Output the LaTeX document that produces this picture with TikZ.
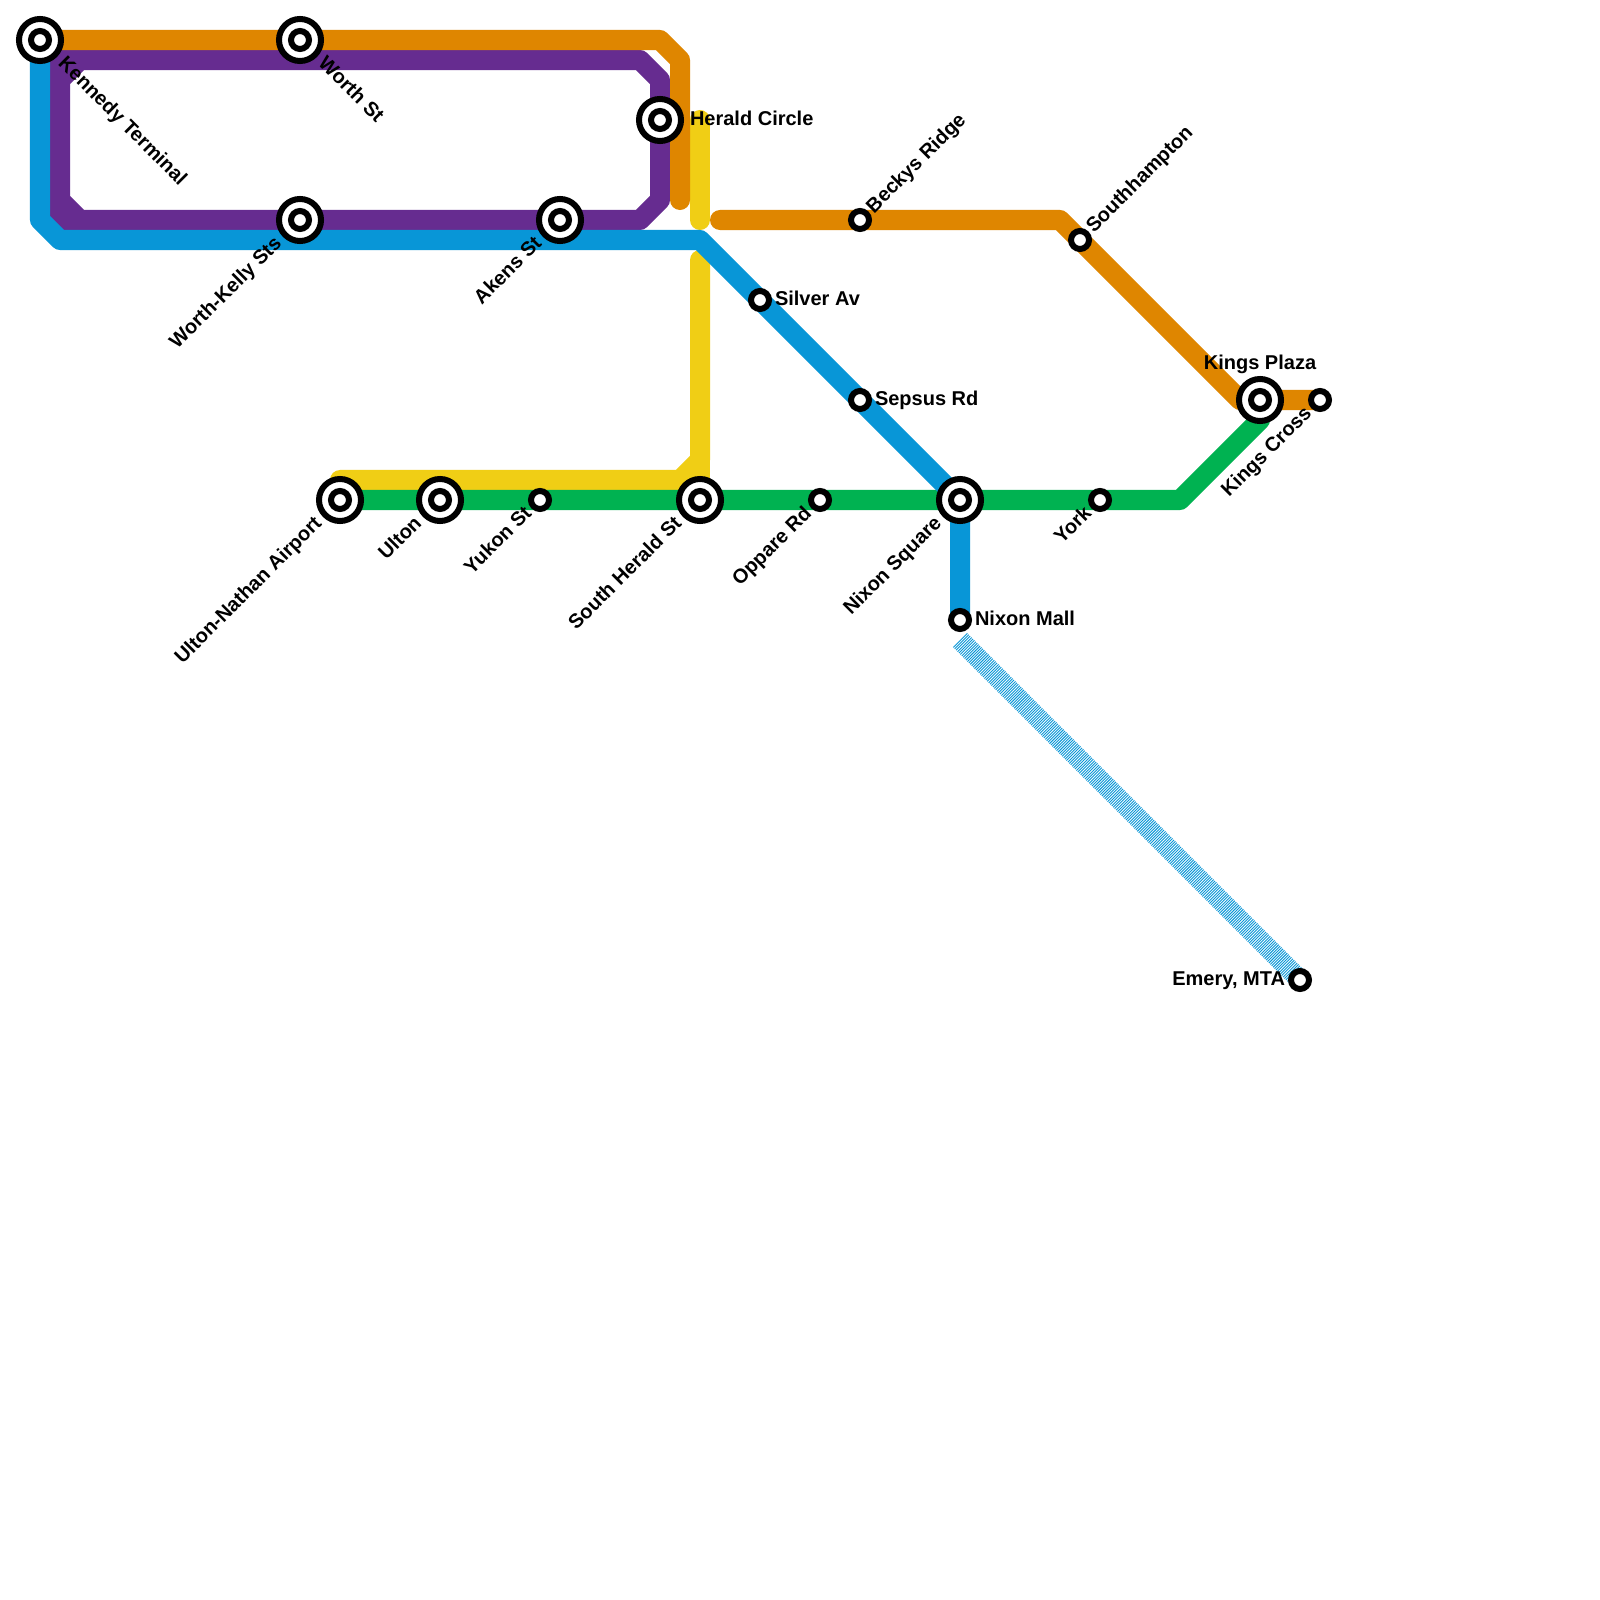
\documentclass[tikz,border=0pt]{standalone}
\usepackage{fontspec}
\setmainfont{Liberation Sans}
\usetikzlibrary{backgrounds}
\definecolor{lorange}{HTML}{DF8600}
\definecolor{lpurple}{HTML}{662C90}
\definecolor{lblue}{HTML}{0896D7}
\definecolor{lyellow}{HTML}{F0CE15}
\definecolor{lgreen}{HTML}{00B251}
\tikzset{
  route/.style={line width=0.2cm,line join=round,line cap=round},
  hatched/.style={line width=0.2cm,line cap=butt,color=lblue,dash pattern=on 0.009cm off 0.011cm},
  inter/.style={circle,draw=black,line width=0.06cm,fill=white,minimum size=0.42cm,inner sep=0pt,
    path picture={\draw[black,line width=0.06cm] (path picture bounding box.center) circle (0.09cm);}},
  stop/.style={circle,draw=black,line width=0.06cm,fill=white,minimum size=0.18cm,inner sep=0pt},
  lbl/.style={inner sep=0pt,outer sep=0pt,text=black,text height=0.14cm,text depth=0.04cm,
    font=\fontsize{5.69pt}{6pt}\selectfont\bfseries}
}
\begin{document}
\begin{tikzpicture}[x=0.01cm,y=-0.01cm]
\useasboundingbox (0,0) rectangle (1600,1600);
% interchange stations
\node[inter] (kennedy) at (40,40) {};
\node[inter] (worth) at (300,40) {};
\node[inter] (worthkelly) at (300,220) {};
\node[inter] (akens) at (560,220) {};
\node[inter] (herald) at (660,120) {};
\node[inter] (ultonnathan) at (340,500) {};
\node[inter] (ulton) at (440,500) {};
\node[inter] (southherald) at (700,500) {};
\node[inter] (nixonsq) at (960,500) {};
\node[inter] (kingsplaza) at (1260,400) {};
% simple stations
\node[stop] (yukon) at (540,500) {};
\node[stop] (oppare) at (820,500) {};
\node[stop] (york) at (1100,500) {};
\node[stop] (beckys) at (860,220) {};
\node[stop] (southhampton) at (1080,240) {};
\node[stop] (silver) at (760,300) {};
\node[stop] (sepsus) at (860,400) {};
\node[stop] (nixonmall) at (960,620) {};
\node[stop] (emery) at (1300,980) {};
\node[stop] (kingscross) at (1320,400) {};
% bends
\coordinate (oa) at (660,40);
\coordinate (ob) at (680,60);
\coordinate (oc) at (680,200);
\coordinate (od) at (720,220);
\coordinate (oe) at (1060,220);
\coordinate (of) at (1240,400);
\coordinate (pa) at (60,60);
\coordinate (pb) at (80,60);
\coordinate (pc) at (640,60);
\coordinate (pd) at (660,80);
\coordinate (pe) at (660,200);
\coordinate (pf) at (640,220);
\coordinate (pg) at (80,220);
\coordinate (ph) at (60,200);
\coordinate (pi) at (60,220);
\coordinate (pj) at (60,80);
\coordinate (ba) at (40,220);
\coordinate (bb) at (60,240);
\coordinate (bc) at (700,240);
\coordinate (ya) at (700,120);
\coordinate (yb) at (700,220);
\coordinate (yc) at (700,260);
\coordinate (yd) at (700,460);
\coordinate (ye) at (680,480);
\coordinate (yf) at (340,480);
\coordinate (yg) at (700,480);
\coordinate (ga) at (1180,500);
\coordinate (gb) at (1260,420);
\coordinate (da) at (960,640);
\begin{scope}[on background layer]
\fill[white] (0,0) rectangle (1600,1600);
\draw[route,lyellow] (ya) -- (yb);
\draw[route,lyellow] (yc) -- (yd) -- (ye) -- (yf) -- (ultonnathan.center);
\draw[route,lyellow] (yd) -- (southherald.center);
\draw[route,lyellow] (ye) -- (yg);
\draw[route,lgreen] (ultonnathan.center) -- (ga) -- (gb) -- (kingsplaza.center);
\draw[route,lpurple] (pj) -- (pb) -- (pc) -- (pd) -- (pe) -- (pf) -- (pg) -- (ph) -- cycle;
\draw[route,lpurple] (pb) -- (pa) -- (pi) -- (pg);
\draw[route,lblue] (kennedy.center) -- (ba) -- (bb) -- (bc) -- (nixonsq.center) -- (nixonmall.center);
\draw[route,lorange] (kennedy.center) -- (oa) -- (ob) -- (oc);
\draw[route,lorange] (od) -- (oe) -- (of) -- (kingscross.center);
\draw[hatched] (da) -- (emery.center);
\end{scope}
% labels
\node[lbl,rotate=-45,anchor=west] (lkennedy) at ([shift={(21,21)}]kennedy.center) {Kennedy Terminal};
\node[lbl,rotate=-45,anchor=west] (lworth) at ([shift={(21,21)}]worth.center) {Worth St};
\node[lbl,rotate=45,anchor=east] (lworthkelly) at ([shift={(-21,21)}]worthkelly.center) {Worth-Kelly Sts};
\node[lbl,rotate=45,anchor=east] (lakens) at ([shift={(-21,21)}]akens.center) {Akens St};
\node[lbl,anchor=west] (lherald) at ([shift={(30,0)}]herald.center) {Herald Circle};
\node[lbl,rotate=45,anchor=east] (lultonnathan) at ([shift={(-21,21)}]ultonnathan.center) {Ulton-Nathan Airport};
\node[lbl,rotate=45,anchor=east] (lulton) at ([shift={(-21,21)}]ulton.center) {Ulton};
\node[lbl,rotate=45,anchor=east] (lsouthherald) at ([shift={(-21,21)}]southherald.center) {South Herald St};
\node[lbl,rotate=45,anchor=east] (lnixonsq) at ([shift={(-21,21)}]nixonsq.center) {Nixon Square};
\node[lbl,anchor=center] (lkingsplaza) at ([shift={(0,-36)}]kingsplaza.center) {Kings Plaza};
\node[lbl,rotate=45,anchor=east] (lyukon) at ([shift={(-11,11)}]yukon.center) {Yukon St};
\node[lbl,rotate=45,anchor=east] (loppare) at ([shift={(-11,11)}]oppare.center) {Oppare Rd};
\node[lbl,rotate=45,anchor=east] (lyork) at ([shift={(-11,11)}]york.center) {York};
\node[lbl,rotate=45,anchor=west] (lbeckys) at ([shift={(10.5,-9.5)}]beckys.center) {Beckys Ridge};
\node[lbl,rotate=45,anchor=west] (lsouthhampton) at ([shift={(10.5,-10)}]southhampton.center) {Southhampton};
\node[lbl,anchor=west] (lsilver) at ([shift={(15,0)}]silver.center) {Silver Av};
\node[lbl,anchor=west] (lsepsus) at ([shift={(15,0)}]sepsus.center) {Sepsus Rd};
\node[lbl,anchor=west] (lnixonmall) at ([shift={(15,0)}]nixonmall.center) {Nixon Mall};
\node[lbl,anchor=east] (lemery) at ([shift={(-15,0)}]emery.center) {Emery, MTA};
\node[lbl,rotate=45,anchor=east] (lkingscross) at ([shift={(-11,11)}]kingscross.center) {Kings Cross};
\end{tikzpicture}
\end{document}
